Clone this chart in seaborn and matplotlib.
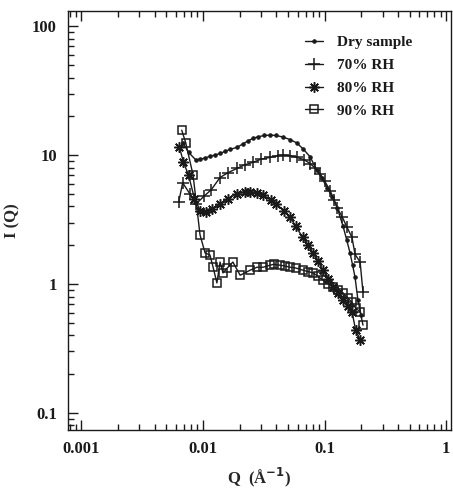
import numpy as np
import pandas as pd
import matplotlib
matplotlib.use('Agg')
import matplotlib.pyplot as plt
import seaborn as sns

# values
q_dry = [0.0068, 0.0076, 0.0087, 0.0095, 0.0104, 0.0114, 0.0125, 0.0138, 0.0152, 0.0168,
         0.0191, 0.0215, 0.0235, 0.0258, 0.0285, 0.0320, 0.0356, 0.0400, 0.0455, 0.0520,
         0.0593, 0.0670, 0.0760, 0.0866, 0.0950, 0.105, 0.116, 0.127, 0.142, 0.152,
         0.162, 0.170, 0.178, 0.188, 0.200]
i_dry = [12.5, 10.5, 9.2, 9.3, 9.5, 9.8, 10.0, 10.3, 10.7, 11.1,
         11.5, 12.3, 12.9, 13.5, 13.9, 14.2, 14.3, 14.2, 13.8, 13.2,
         12.4, 11.1, 9.7, 7.6, 6.6, 5.6, 4.7, 3.9, 2.8, 2.2,
         1.74, 1.4, 1.13, 0.75, 0.57]

q_70 = [0.0063, 0.0068, 0.0078, 0.0088, 0.0102, 0.0117, 0.0138, 0.0160, 0.0191, 0.0220,
        0.0258, 0.0300, 0.0356, 0.0410, 0.0455, 0.0520, 0.0593, 0.0680, 0.0760, 0.0840,
        0.0918, 0.100, 0.111, 0.120, 0.127, 0.140, 0.153, 0.168, 0.178, 0.196, 0.207]
i_70 = [4.3, 6.1, 5.0, 4.2, 4.8, 5.4, 6.7, 7.3, 7.9, 8.4,
        8.8, 9.3, 9.6, 9.9, 10.0, 9.9, 9.6, 9.2, 8.6, 7.9,
        7.2, 6.3, 5.3, 4.5, 3.9, 3.3, 2.75, 2.3, 1.7, 1.48, 0.86]

q_80 = [0.0064, 0.0069, 0.0076, 0.0085, 0.0095, 0.0105, 0.0118, 0.0138, 0.0160, 0.0190,
        0.0220, 0.0244, 0.0280, 0.0310, 0.0360, 0.0400, 0.0460, 0.0520, 0.0580, 0.0660,
        0.0730, 0.0800, 0.0890, 0.0970, 0.107, 0.117, 0.130, 0.142, 0.155, 0.168,
        0.180, 0.196]
i_80 = [11.5, 8.8, 7.0, 4.6, 3.7, 3.6, 3.8, 4.2, 4.6, 5.0,
        5.2, 5.2, 5.1, 4.9, 4.5, 4.2, 3.7, 3.3, 2.8, 2.3,
        2.0, 1.74, 1.5, 1.28, 1.1, 0.95, 0.85, 0.75, 0.68, 0.61,
        0.44, 0.37]

q_90 = [0.00668, 0.0072, 0.00828, 0.00945, 0.0104, 0.0114, 0.0121, 0.0130, 0.0138, 0.0146,
        0.0158, 0.0176, 0.0202, 0.0244, 0.0278, 0.0312, 0.0356, 0.0380, 0.0430, 0.0470,
        0.0520, 0.0580, 0.0664, 0.0730, 0.0804, 0.0880, 0.0970, 0.107, 0.117, 0.128,
        0.142, 0.155, 0.168, 0.180, 0.196, 0.207]
i_90 = [15.6, 12.5, 7.0, 2.4, 1.74, 1.68, 1.35, 1.02, 1.48, 1.22,
        1.33, 1.48, 1.17, 1.28, 1.35, 1.35, 1.40, 1.42, 1.40, 1.38,
        1.35, 1.33, 1.28, 1.25, 1.22, 1.15, 1.07, 1.0, 0.95, 0.9,
        0.85, 0.78, 0.72, 0.65, 0.61, 0.48]

series = [
    ('Dry sample', q_dry, i_dry, dict(marker='o', markersize=2.5)),
    ('70% RH', q_70, i_70, dict(marker='+', markersize=8, markeredgewidth=1.1)),
    ('80% RH', q_80, i_80, dict(marker=(8, 2, 0), markersize=7.5, markeredgewidth=1.1)),
    ('90% RH', q_90, i_90, dict(marker='s', markersize=6, markerfacecolor='none',
                               markeredgewidth=1.1)),
]

sns.set_theme(style='ticks')
plt.rcParams['font.family'] = ['Liberation Serif', 'DejaVu Serif']
plt.rcParams['font.weight'] = 'bold'

fig = plt.figure(figsize=(4.53, 4.88), dpi=100)
ax = fig.add_axes([0.150, 0.119, 0.846, 0.858])

for name, q, i, style in series:
    df = pd.DataFrame({'Q': q, 'I': i})
    sns.lineplot(data=df, x='Q', y='I', ax=ax, color='k', linewidth=1.0,
                 markeredgecolor='k', sort=False, estimator=None, label=name,
                 **style)

ax.set_xscale('log')
ax.set_yscale('log')
ax.set_xlim(0.000774, 1.1)
ax.set_ylim(0.0738, 130.7)

ax.set_xticks([0.001, 0.01, 0.1, 1])
ax.set_xticklabels(['0.001', '0.01', '0.1', '1'])
ax.set_yticks([0.1, 1, 10, 100])
ax.set_yticklabels(['0.1', '1', '10', '100'])
ax.xaxis.set_minor_locator(matplotlib.ticker.LogLocator(base=10, subs=np.arange(2, 10)))
ax.yaxis.set_minor_locator(matplotlib.ticker.LogLocator(base=10, subs=np.arange(2, 10)))
ax.xaxis.set_minor_formatter(matplotlib.ticker.NullFormatter())
ax.yaxis.set_minor_formatter(matplotlib.ticker.NullFormatter())

ax.tick_params(which='both', direction='in', top=True, right=False, colors='k',
               labelsize=12, width=1.0)
ax.tick_params(which='major', length=7, pad=8)
ax.tick_params(which='minor', length=4)
for lab in ax.get_xticklabels() + ax.get_yticklabels():
    lab.set_fontweight('bold')
for sp in ax.spines.values():
    sp.set_color('k')
    sp.set_linewidth(1.0)

ax.set_xlabel('Q  (Å$^{-1}$)', fontsize=12, fontweight='bold', labelpad=6)
ax.set_ylabel('I (Q)', fontsize=12, fontweight='bold', labelpad=8)

leg = ax.legend(loc='upper left', bbox_to_anchor=(0.582, 0.975), frameon=False,
                handlelength=1.2, handletextpad=0.9, labelspacing=0.6,
                prop={'weight': 'bold', 'size': 11})
for t in leg.get_texts():
    t.set_color('k')

fig.savefig('out.png', dpi=100)
